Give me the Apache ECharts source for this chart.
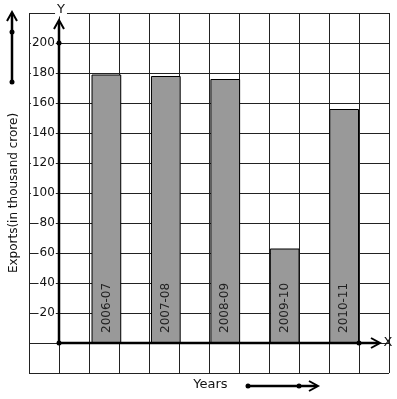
<!DOCTYPE html>
<html>
<head>
    <meta charset="utf-8">
    <title>Exports by year</title>
    <script src="https://cdn.jsdelivr.net/npm/echarts@6.0.0/dist/echarts.min.js"></script>
    <style>
        body {
            margin: 0;
            padding: 0;
            background: #fff;
            overflow: hidden;
        }

        #chart {
            width: 397px;
            height: 399px;
        }
    </style>
</head>
<body>
    <div id="chart"></div>

    <script>
        // data
        const years = ['2006-07', '2007-08', '2008-09', '2009-10', '2010-11'];
        const exportsValues = [179, 178, 176, 63, 156];
        const yTicks = [0, 20, 40, 60, 80, 100, 120, 140, 160, 180, 200];

        // every bar sits in a column with an empty column before it
        const categories = [];
        const barData = [];
        years.forEach((y, i) => {
            categories.push('gap' + i);
            barData.push(null);
            categories.push(y);
            barData.push(exportsValues[i]);
        });

        const chart = echarts.init(document.getElementById('chart'), null, { renderer: 'canvas' });
        const font = 'DejaVu Sans';

        // origin of the data grid, in px
        const ox = 59, oy = 343;
        const ink = '#000';

        const option = {
            animation: false,
            textStyle: { fontFamily: font },
            grid: [
                // graph paper
                { left: 29, right: 8, top: 13, bottom: 26 },
                // data area
                { left: 59, right: 38, top: 43, bottom: 56 }
            ],
            xAxis: [
                {
                    gridIndex: 0, type: 'value', min: 0, max: 12, interval: 1,
                    axisLine: { show: false }, axisTick: { show: false }, axisLabel: { show: false },
                    splitLine: { show: true, lineStyle: { color: '#222', width: 1 } }
                },
                {
                    gridIndex: 1, type: 'category', data: categories,
                    axisLine: { show: false }, axisTick: { show: false }, axisLabel: { show: false },
                    name: 'Years', nameLocation: 'middle', nameGap: 35,
                    nameTextStyle: { fontSize: 13, color: '#111', fontFamily: font }
                }
            ],
            yAxis: [
                {
                    gridIndex: 0, type: 'value', min: 0, max: 12, interval: 1,
                    axisLine: { show: false }, axisTick: { show: false }, axisLabel: { show: false },
                    splitLine: { show: true, lineStyle: { color: '#222', width: 1 } }
                },
                {
                    gridIndex: 1, type: 'value', min: yTicks[0], max: yTicks[yTicks.length - 1], interval: 20,
                    axisLine: { show: false }, axisTick: { show: false }, splitLine: { show: false },
                    axisLabel: {
                        margin: 6,
                        fontSize: 12,
                        color: '#111',
                        backgroundColor: '#fff',
                        padding: [0, 1],
                        formatter: v => (v === 0 ? '' : String(v))
                    },
                    name: 'Exports(in thousand crore)', nameLocation: 'middle', nameGap: 39,
                    nameTextStyle: { fontSize: 12, color: '#111', fontFamily: font }
                }
            ],
            series: [{
                type: 'bar',
                xAxisIndex: 1,
                yAxisIndex: 1,
                data: barData,
                barWidth: '100%',
                itemStyle: { color: '#999', borderColor: '#000', borderWidth: 1 },
                label: {
                    show: true,
                    position: 'insideBottom',
                    distance: 10,
                    rotate: 90,
                    align: 'left',
                    verticalAlign: 'middle',
                    formatter: '{b}',
                    fontSize: 12,
                    color: '#222'
                }
            }],
            graphic: [
                // y axis with arrow
                { type: 'line', shape: { x1: ox, y1: oy, x2: ox, y2: 21 }, style: { stroke: ink, lineWidth: 2.5 }, z: 10 },
                { type: 'polyline', shape: { points: [[ox - 5, 29], [ox, 20], [ox + 5, 29]] }, style: { stroke: ink, lineWidth: 2, fill: null }, z: 10 },
                // x axis with arrow
                { type: 'line', shape: { x1: ox, y1: oy, x2: 379, y2: oy }, style: { stroke: ink, lineWidth: 2.5 }, z: 10 },
                { type: 'polyline', shape: { points: [[371, oy - 5], [380, oy], [371, oy + 5]] }, style: { stroke: ink, lineWidth: 2, fill: null }, z: 10 },
                { type: 'circle', shape: { cx: ox, cy: 43, r: 2.5 }, style: { fill: ink }, z: 11 },
                { type: 'circle', shape: { cx: ox, cy: oy, r: 2.5 }, style: { fill: ink }, z: 11 },
                { type: 'circle', shape: { cx: 359, cy: oy, r: 2.5 }, style: { fill: ink }, z: 11 },
                {
                    type: 'text', x: 61, y: 10, z: 11,
                    style: { text: 'Y', font: '13px ' + font, fill: '#111', align: 'center', verticalAlign: 'middle', backgroundColor: '#fff', padding: [0, 2] }
                },
                {
                    type: 'text', x: 388, y: oy, z: 11,
                    style: { text: 'X', font: '13px ' + font, fill: '#111', align: 'center', verticalAlign: 'middle' }
                },
                // arrow at the top left
                { type: 'line', shape: { x1: 12, y1: 82, x2: 12, y2: 14 }, style: { stroke: ink, lineWidth: 2.5 } },
                { type: 'polyline', shape: { points: [[7, 21], [12, 12], [17, 21]] }, style: { stroke: ink, lineWidth: 2, fill: null } },
                { type: 'circle', shape: { cx: 12, cy: 32, r: 2.5 }, style: { fill: ink } },
                { type: 'circle', shape: { cx: 12, cy: 82, r: 2.5 }, style: { fill: ink } },
                // arrow next to "Years"
                { type: 'line', shape: { x1: 248, y1: 386, x2: 317, y2: 386 }, style: { stroke: ink, lineWidth: 2.5 } },
                { type: 'polyline', shape: { points: [[309, 381], [318, 386], [309, 391]] }, style: { stroke: ink, lineWidth: 2, fill: null } },
                { type: 'circle', shape: { cx: 248, cy: 386, r: 2.5 }, style: { fill: ink } },
                { type: 'circle', shape: { cx: 299, cy: 386, r: 2.5 }, style: { fill: ink } }
            ]
        };

        chart.setOption(option);
    </script>
</body>
</html>
